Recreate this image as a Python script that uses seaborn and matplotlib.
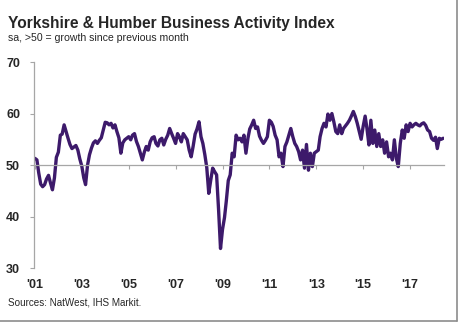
import numpy as np
import pandas as pd
import matplotlib
matplotlib.use("Agg")
import matplotlib.pyplot as plt
from matplotlib.lines import Line2D
import seaborn as sns

# ---- data (monthly, Jan 2001 onwards) ----
start_month = "2001-01"
values = [
    51.3, 51.0, 48.5, 46.3, 45.8, 46.2, 47.3, 48.0, 46.5, 45.2, 47.5, 51.5,   # 2001
    52.5, 55.8, 56.0, 57.8, 56.5, 55.2, 54.0, 53.2, 53.5, 53.8, 52.9, 51.2,   # 2002
    49.8, 47.5, 46.2, 50.0, 52.0, 53.3, 54.3, 54.7, 54.2, 54.8, 55.3, 56.8,   # 2003
    58.3, 58.2, 57.8, 58.1, 57.2, 57.8, 56.5, 55.3, 52.3, 54.3, 54.9, 55.2,   # 2004
    55.5, 54.9, 55.8, 56.1, 54.6, 53.6, 52.3, 51.0, 52.5, 53.6, 52.9, 54.5,   # 2005
    55.3, 55.5, 54.2, 53.7, 54.9, 55.2, 53.9, 55.0, 55.8, 57.1, 56.1, 55.2,   # 2006
    54.2, 56.1, 55.5, 54.5, 56.1, 55.5, 54.9, 52.9, 51.6, 53.6, 56.0, 57.0,   # 2007
    58.4, 55.5, 54.2, 52.0, 49.5, 44.5, 47.0, 49.4, 48.7, 48.1, 41.3, 33.8,   # 2008
    37.5, 39.8, 43.0, 47.0, 48.1, 52.3, 51.6, 55.8, 54.9, 55.2, 54.5, 55.8,   # 2009
    52.3, 55.2, 57.0, 57.8, 58.7, 57.1, 57.4, 55.6, 54.8, 54.2, 54.8, 55.5,   # 2010
    58.7, 58.3, 57.5, 55.8, 54.9, 51.6, 52.3, 49.7, 53.6, 54.5, 55.8, 57.1,   # 2011
    55.5, 54.2, 53.6, 52.6, 51.0, 52.9, 49.4, 54.0, 49.0, 52.3, 49.7, 52.3,   # 2012
    52.6, 52.9, 55.5, 57.1, 58.1, 57.4, 59.9, 58.7, 60.0, 58.4, 56.5, 56.1,   # 2013
    57.8, 56.1, 57.1, 57.6, 58.1, 58.7, 59.5, 60.4, 59.4, 58.1, 56.5, 55.0,   # 2014
    57.5, 59.5, 57.1, 53.9, 58.7, 54.2, 56.8, 53.6, 56.1, 53.6, 54.9, 52.3,   # 2015
    54.5, 51.6, 52.3, 51.0, 54.9, 51.3, 49.7, 54.2, 56.8, 55.2, 57.8, 56.5,   # 2016
    58.1, 57.4, 57.8, 58.1, 57.8, 57.6, 58.0, 58.2, 57.7, 56.8, 56.5, 55.2,   # 2017
    54.8, 55.4, 53.2, 55.2, 55.0, 55.2,                                       # 2018
]
tick_years = [2001, 2003, 2005, 2007, 2009, 2011, 2013, 2015, 2017]
tick_labels = ["'01", "'03", "'05", "'07", "'09", "'11", "'13", "'15", "'17"]
y_ticks = [30, 40, 50, 60, 70]

title = "Yorkshire & Humber Business Activity Index"
subtitle = "sa, >50 = growth since previous month"
source = "Sources: NatWest, IHS Markit."

dates = pd.date_range(start_month, periods=len(values), freq="MS")
df = pd.DataFrame({"date": dates, "value": values})

sns.set_theme(style="white")
plt.rcParams["font.family"] = ["Liberation Sans", "DejaVu Sans"]

fig = plt.figure(figsize=(4.61, 3.23), dpi=100)
ax = fig.add_axes([0.0738, 0.170, 0.889, 0.638])

line_color = "#3d1a6b"
grey = "#a6a6a6"

sns.lineplot(data=df, x="date", y="value", ax=ax, color=line_color,
             linewidth=2.4, solid_joinstyle="round")

ax.set_ylim(30, 70)
ax.set_yticks(y_ticks)
ax.set_xlim(dates[0] - pd.Timedelta(days=14), dates[-1] + pd.Timedelta(days=10))
ax.set_xlabel("")
ax.set_ylabel("")

# spines: left axis and the 50 baseline with tick marks
for s in ["top", "right"]:
    ax.spines[s].set_visible(False)
ax.spines["left"].set_color(grey)
ax.spines["left"].set_linewidth(0.9)
ax.spines["bottom"].set_position(("data", 50))
ax.spines["bottom"].set_color(grey)
ax.spines["bottom"].set_linewidth(0.9)
ax.set_zorder(1)

tick_pos = [pd.Timestamp(f"{y}-01-01") for y in tick_years]
ax.set_xticks(tick_pos)
ax.tick_params(axis="x", bottom=True, direction="out", length=3, width=0.8,
               color=grey, labelbottom=False)
ax.tick_params(axis="y", left=True, direction="out", length=3, width=0.8,
               color=grey, labelsize=9, pad=7)
for lab in ax.get_yticklabels():
    lab.set_fontweight("bold")

# tick labels along the bottom of the plot area
sec = ax.secondary_xaxis("bottom")
sec.set_xticks(tick_pos)
sec.set_xticklabels(tick_labels, fontsize=9, fontweight="bold")
sec.tick_params(length=0, pad=8)
sec.spines["bottom"].set_visible(False)

ax.grid(False)

fig.text(0.017, 0.926, title, fontsize=11.2, fontweight="bold", ha="left", va="center")
fig.text(0.017, 0.883, subtitle, fontsize=7.6, ha="left", va="center")
fig.text(0.017, 0.062, source, fontsize=7.1, ha="left", va="center")

# frame lines on right and bottom edges
fig.add_artist(Line2D([0.992, 0.992], [0.006, 1.0], transform=fig.transFigure,
                      color="#8c8c8c", linewidth=1.2))
fig.add_artist(Line2D([0.0, 0.992], [0.006, 0.006], transform=fig.transFigure,
                      color="#8c8c8c", linewidth=1.2))

fig.savefig("out.png", dpi=100)
